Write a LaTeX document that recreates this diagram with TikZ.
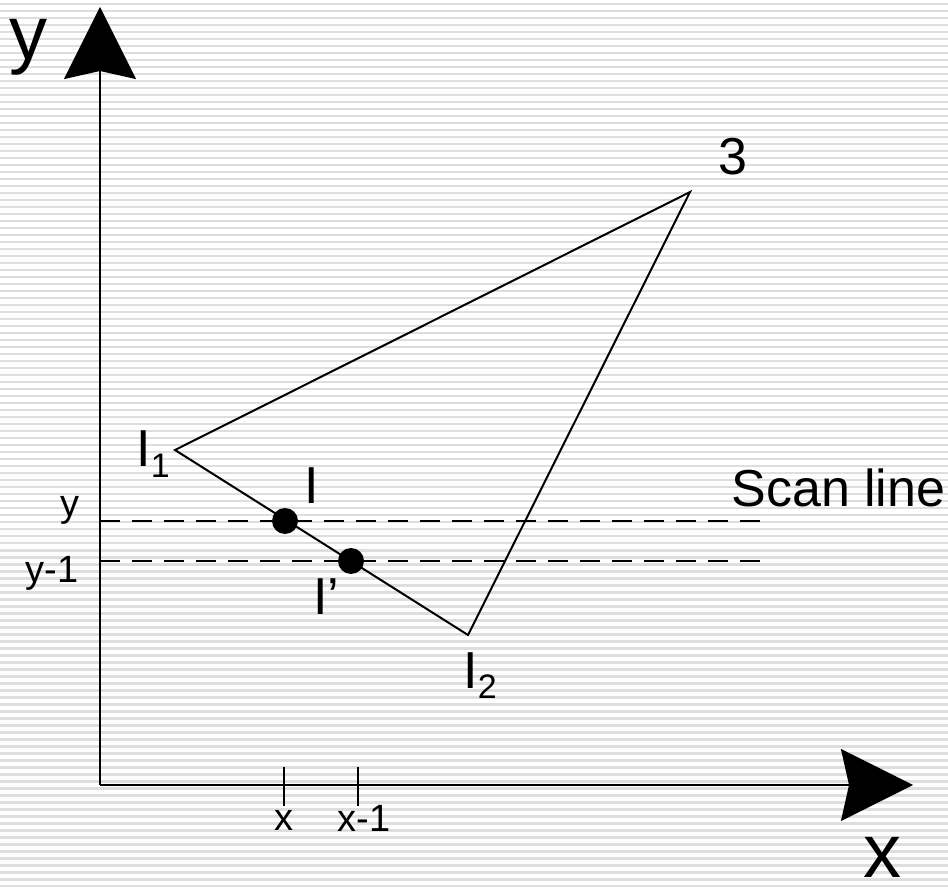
\documentclass[tikz,border=0pt]{standalone}
\usepackage{fontspec}
\setmainfont{Liberation Sans}
\usetikzlibrary{arrows.meta}

\definecolor{stripegray}{RGB}{222,222,222}
\newcommand{\lowidx}[1]{\raisebox{-0.4ex}{\fontsize{17}{19}\selectfont #1}}

\begin{document}
\begin{tikzpicture}[
    x=0.5pt, y=-0.5pt,
    axis/.style={line width=1pt, -{Stealth[length=36pt, width=36pt, inset=4pt]}},
    edge/.style={line width=1pt},
    scan/.style={line width=1pt, dash pattern=on 10pt off 6pt},
    tick/.style={line width=1pt},
    dot/.style={circle, fill=black, inner sep=0pt, minimum size=13pt},
    lbl/.style={font=\fontsize{26}{30}\selectfont, inner sep=0pt},
    small/.style={font=\fontsize{19}{22}\selectfont, inner sep=0pt},
    big/.style={font=\fontsize{38}{44}\selectfont, inner sep=0pt}
  ]
  %% background stripes
  \useasboundingbox (0,0) rectangle (948,887);
  \fill[white] (0,0) rectangle (948,887);
  \foreach \k in {0,...,126}
    \fill[stripegray] (0,{3+7*\k}) rectangle (948,{5.5+7*\k});

  %% axes
  \coordinate (O) at (100,785);
  \coordinate (ytip) at (100,7);
  \coordinate (xtip) at (913,785);
  \draw[axis] (O) -- (ytip);
  \draw[axis] (O) -- (xtip);
  \node[big, anchor=base] (ylab) at (29,60) {y};
  \node[big, anchor=base] (xlab) at (882,877) {x};

  %% triangle
  \coordinate (I1) at (175,450);
  \coordinate (V3) at (690,192);
  \coordinate (I2) at (468,635);
  \draw[edge] (I1) -- (V3) -- (I2) -- cycle;

  %% scan lines
  \coordinate (sy)  at (100,521);
  \coordinate (sye) at (765,521);
  \coordinate (sy1)  at (100,561);
  \coordinate (sy1e) at (765,561);
  \draw[scan] (sy) -- (sye);
  \draw[scan] (sy1) -- (sy1e);

  %% intersection points
  \node[dot] (P)  at (285,521) {};
  \node[dot] (P1) at (351,561) {};

  %% ticks on x axis
  \coordinate (tx)  at (284,767);
  \coordinate (tx1) at (358,767);
  \draw[tick] (tx) -- ++(0,39);
  \draw[tick] (tx1) -- ++(0,39);

  %% labels
  \node[lbl] (l3) at (733,157) {3};
  \node[lbl, anchor=west] (scanlbl) at (731,488) {Scan line};
  \node[lbl, anchor=base west] (lI1) at (136,467) {I\lowidx{1}};
  \node[lbl] (lI) at (312,486) {I};
  \node[lbl, anchor=base west] (lI1p) at (313,614) {I’};
  \node[lbl, anchor=base west] (lI2) at (463,688) {I\lowidx{2}};
  \node[small] (ly)  at (70,510) {y};
  \node[small] (ly1) at (52,573) {y-1};
  \node[small] (lx)  at (284,820) {x};
  \node[small] (lx1) at (364,818) {x-1};
\end{tikzpicture}
\end{document}
